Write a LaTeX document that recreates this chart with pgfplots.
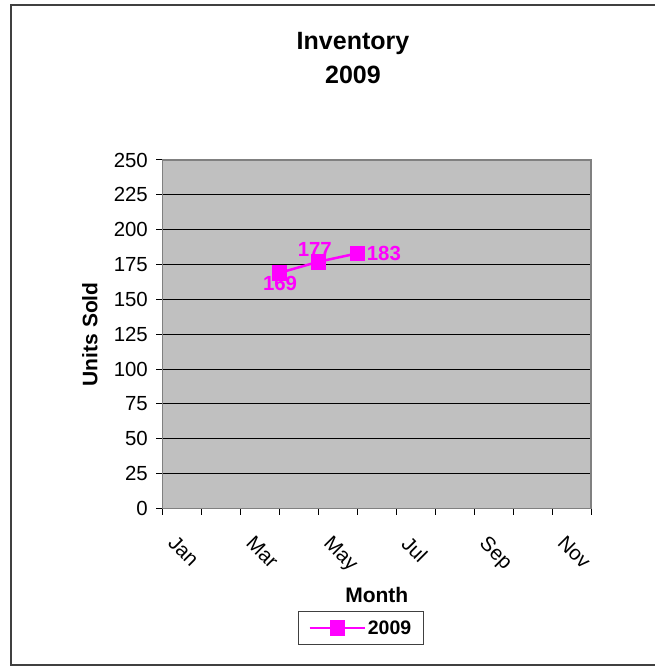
\documentclass[border=0pt]{standalone}
\usepackage{pgfplots}
\pgfplotsset{compat=1.18}
\usepackage{fontspec}
\setmainfont{Liberation Sans}
\definecolor{plotgray}{HTML}{C0C0C0}
\definecolor{framegray}{HTML}{808080}
\definecolor{mag}{HTML}{FF00FF}
\definecolor{bordergray}{HTML}{404040}

\begin{document}
\begin{tikzpicture}[x=1pt,y=1pt]
\path[use as bounding box] (-162.5,-158.5) rectangle (492.5,508.5);
\begin{axis}[
  at={(0pt,0pt)}, anchor=south west,
  scale only axis, width=428.5pt, height=348.5pt,
  xmin=0, xmax=11, ymin=0, ymax=250,
  xtick={0,2,...,10}, xticklabels={Jan,Mar,May,Jul,Sep,Nov},
  minor xtick={1,3,...,11},
  ytick={0,25,...,250},
  xtick pos=left, ytick pos=left,
  ymajorgrids, major grid style={black, line width=1pt},
  axis background/.style={fill=plotgray},
  axis line style={framegray, line width=1.3pt},
  tick align=outside, major tick length=6pt, minor tick length=6pt,
  tick style={black, line width=1pt},
  /pgf/number format/assume math mode=true,
  ticklabel style={font=\fontsize{20.4}{24}\selectfont},
  yticklabel style={inner sep=0pt, xshift=-8.5pt},
  xticklabel style={rotate=-45, anchor=north west, inner sep=0pt, xshift=24.3pt, yshift=-3.7pt},
  clip=false,
  legend style={at={(0.4628,-0.3429)}, anchor=center, draw=bordergray, line width=1pt,
    font=\bfseries\fontsize{19.5}{23}\selectfont, inner xsep=10pt, inner ysep=7pt},
  legend image code/.code={\draw[mark repeat=2,mark phase=2,#1] plot coordinates {(0pt,0pt) (27.5pt,0pt) (55pt,0pt)};},
  lab/.style={forget plot, draw=none, mark=none, nodes near coords, point meta=explicit symbolic,
    every node near coord/.append style={inner sep=0pt, text=mag, font=\bfseries\fontsize{20.4}{24}\selectfont}},
]
\addplot[mag, line width=2.5pt, mark=square*, mark size=7.3pt,
  mark options={solid, fill=mag, line width=0.5pt}]
  coordinates {(3,169) (4,177) (5,183)};
\addlegendentry{2009}
\addplot[lab, every node near coord/.append style={anchor=north, xshift=0.7pt, yshift=-3.6pt}] coordinates {(3,169) [169]};
\addplot[lab, every node near coord/.append style={anchor=south, xshift=-3.5pt, yshift=5pt}] coordinates {(4,177) [177]};
\addplot[lab, every node near coord/.append style={anchor=west, xshift=9.4pt}] coordinates {(5,183) [183]};
\end{axis}
\node[anchor=base, font=\bfseries\fontsize{25}{30}\selectfont] at (190.5,459) {Inventory};
\node[anchor=base, font=\bfseries\fontsize{25}{30}\selectfont] at (190.5,425.2) {2009};
\node[anchor=base, font=\bfseries\fontsize{21}{25}\selectfont] at (214.25,-94) {Month};
\node[anchor=base, rotate=90, font=\bfseries\fontsize{21}{25}\selectfont] at (-65,174.25) {Units Sold};
\draw[bordergray, line width=2pt] (493,503) -- (-151.8,503) -- (-151.8,-156.5) -- (493,-156.5);
\end{tikzpicture}
\end{document}
